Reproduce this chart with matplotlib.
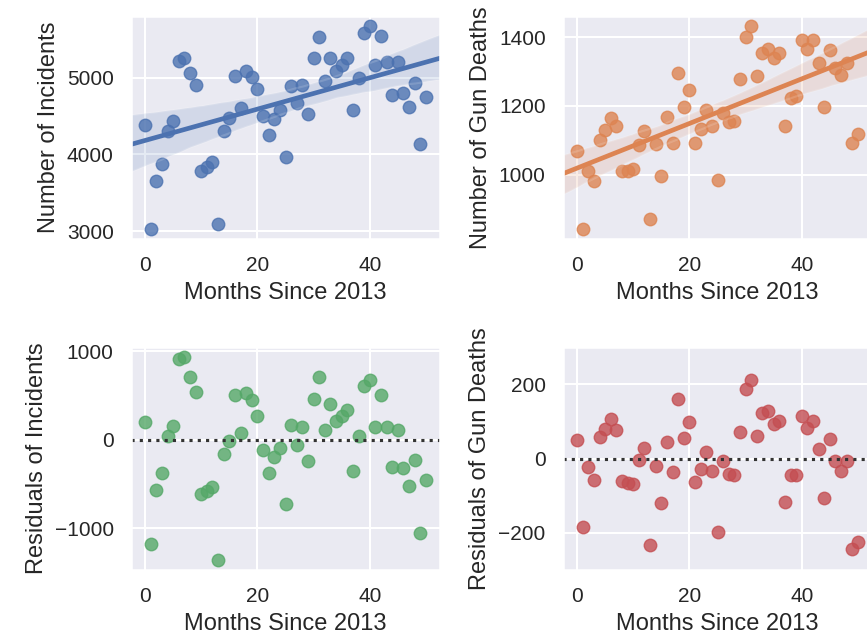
import numpy as np
import matplotlib
matplotlib.use("Agg")
import matplotlib.pyplot as plt
import seaborn as sns

# monthly totals, Jan 2013 = month 0
months = list(range(51))

incidents = [
    4382, 3030, 3653, 3872, 4305, 4434, 5215, 5257, 5056, 4906,
    3777, 3833, 3897, 3091, 4309, 4477, 5017, 4605, 5081, 5013,
    4854, 4494, 4254, 4455, 4575, 3962, 4884, 4670, 4901, 4528,
    5253, 5527, 4949, 5253, 5086, 5163, 5253, 4580, 5000, 5583,
    5669, 5163, 5545, 5206, 4777, 5206, 4798, 4618, 4931, 4129,
    4747,
]

gun_deaths = [
    1069, 843, 1010, 981, 1102, 1130, 1164, 1142, 1012, 1012,
    1016, 1086, 1126, 871, 1090, 996, 1167, 1093, 1296, 1198,
    1247, 1093, 1133, 1187, 1142, 984, 1181, 1154, 1157, 1279,
    1400, 1432, 1287, 1355, 1367, 1338, 1355, 1142, 1222, 1229,
    1392, 1367, 1392, 1324, 1198, 1364, 1310, 1290, 1324, 1093,
    1119,
]

sns.set_theme(style="darkgrid", context="talk")
plt.rcParams["font.family"] = ["Liberation Sans", "DejaVu Sans"]
plt.rcParams["xtick.labelsize"] = 15
plt.rcParams["ytick.labelsize"] = 15
plt.rcParams["axes.labelsize"] = 17
plt.rcParams["axes.labelpad"] = 5

W, H = 867, 639
fig = plt.figure(figsize=(W / 100, H / 100), dpi=100)


def px_axes(left, top, right, bottom):
    return fig.add_axes([left / W, 1 - bottom / H, (right - left) / W, (bottom - top) / H])


ax_inc = px_axes(131, 16, 440, 239)
ax_dth = px_axes(563, 16, 872, 239)
ax_rinc = px_axes(131, 347, 440, 570)
ax_rdth = px_axes(563, 347, 872, 570)

x = np.array(months)
y_inc = np.array(incidents)
y_dth = np.array(gun_deaths)

pal = sns.color_palette("deep")

sns.regplot(x=x, y=y_inc, ax=ax_inc, color=pal[0], truncate=False, seed=1)
ax_inc.set_xlabel("Months Since 2013")
ax_inc.set_ylabel("Number of Incidents")

sns.regplot(x=x, y=y_dth, ax=ax_dth, color=pal[1], truncate=False, seed=1)
ax_dth.set_xlabel("Months Since 2013")
ax_dth.set_ylabel("Number of Gun Deaths")

sns.residplot(x=x, y=y_inc, ax=ax_rinc, color=pal[2])
ax_rinc.set_xlabel("Months Since 2013")
ax_rinc.set_ylabel("Residuals of Incidents")

sns.residplot(x=x, y=y_dth, ax=ax_rdth, color=pal[3])
ax_rdth.set_ylim(-300, 300)
ax_rdth.set_xlabel("Months Since 2013")
ax_rdth.set_ylabel("Residuals of Gun Deaths")

for ax in (ax_inc, ax_dth, ax_rinc, ax_rdth):
    ax.set_xticks([0, 20, 40])

fig.savefig("out.png", dpi=100)
